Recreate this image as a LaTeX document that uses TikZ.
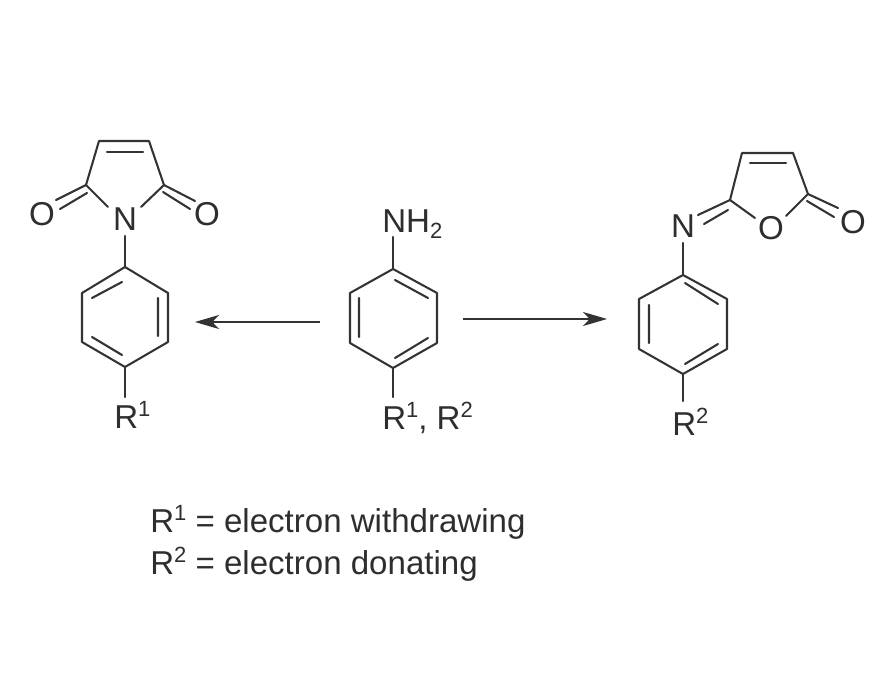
\documentclass[tikz,border=0pt]{standalone}
\usepackage{fontspec}
\setmainfont{Liberation Sans}
\usetikzlibrary{arrows.meta}
\newcommand{\supr}[1]{\raisebox{0.36em}{\fontsize{16.5}{17}\selectfont #1}}
\newcommand{\subr}[1]{\raisebox{-0.2em}{\fontsize{16.5}{17}\selectfont #1}}
\tikzset{
  bond/.style={line width=1.55pt,draw=black!80,line cap=round,line join=round},
  rxnarrow/.style={line width=1.35pt,draw=black!80,-{Stealth[length=18pt,width=10.5pt,inset=5pt]},shorten >=0pt},
  atom/.style={inner sep=0pt,text=black!82,font=\fontsize{24.8}{29}\selectfont},
  labeltext/.style={inner sep=0pt,anchor=base west,text=black!82,font=\fontsize{24.8}{29}\selectfont}
}
\begin{document}
\begin{tikzpicture}[x=0.75pt,y=-0.75pt]
\path[use as bounding box,fill=white] (0,0) rectangle (890,682);
% --- left product ---
\coordinate (la) at (125,267); \coordinate (lb) at (168,293); \coordinate (lc) at (168,342);
\coordinate (ld) at (125,367); \coordinate (le) at (82,342); \coordinate (lf) at (82,293);
\draw[bond] (la)--(lb)--(lc)--(ld)--(le)--(lf)--cycle;
\draw[bond] (92,298)--(122,282) (92,337)--(122,355) (158,298)--(158,336);
\node[atom] (lN) at (125,219) {N};
\node[atom] (lO1) at (42,214) {O};
\node[atom] (lO2) at (207,214) {O};
\node[labeltext] (lR) at (114,428) {R\supr{1}};
\coordinate (lNb) at (125,236); \coordinate (lRb) at (125,397);
\draw[bond] (lNb)--(la) (ld)--(lRb);
\coordinate (lp) at (86,185); \coordinate (lq) at (99,141); \coordinate (lr) at (149,141); \coordinate (ls) at (164,185);
\coordinate (lNl) at (108,207); \coordinate (lNr) at (141,207);
\draw[bond] (lNl)--(lp)--(lq)--(lr)--(ls)--(lNr);
\draw[bond] (107,152)--(143,152);
\draw[bond] (lp)--(56,200) (87,193)--(60,209);
\draw[bond] (ls)--(195,201) (163,192)--(190,209);
% --- aniline ---
\coordinate (ma) at (393,269); \coordinate (mb) at (437,293); \coordinate (mc) at (437,343);
\coordinate (md) at (393,368); \coordinate (me) at (350,343); \coordinate (mf) at (350,293);
\draw[bond] (ma)--(mb)--(mc)--(md)--(me)--(mf)--cycle;
\draw[bond] (395,280)--(428,298) (395,358)--(428,338) (359,298)--(359,337);
\node[labeltext] (mN) at (382,232) {NH\subr{2}};
\node[labeltext] (mR) at (382,429) {R\supr{1}, R\supr{2}};
\coordinate (mNb) at (393,237); \coordinate (mRb) at (393,397);
\draw[bond] (mNb)--(ma) (md)--(mRb);
% --- right product ---
\coordinate (ra) at (683,275); \coordinate (rb) at (727,299); \coordinate (rc) at (727,349);
\coordinate (rd) at (683,374); \coordinate (re) at (639,349); \coordinate (rf) at (639,299);
\draw[bond] (ra)--(rb)--(rc)--(rd)--(re)--(rf)--cycle;
\draw[bond] (685,283)--(718,304) (685,364)--(718,344) (649,305)--(649,343);
\node[atom] (rN) at (683,226) {N};
\node[atom] (rO1) at (771,228) {O};
\node[atom] (rO2) at (853,222) {O};
\node[labeltext] (rR) at (672,435) {R\supr{2}};
\coordinate (rNb) at (683,243); \coordinate (rRb) at (683,401);
\draw[bond] (rNb)--(ra) (rd)--(rRb);
\coordinate (rp) at (730,200); \coordinate (rq) at (742,153); \coordinate (rr) at (793,153); \coordinate (rs) at (808,194);
\coordinate (rOl) at (755,218); \coordinate (rOr) at (786,216);
\draw[bond] (rOl)--(rp)--(rq)--(rr)--(rs)--(rOr);
\draw[bond] (750,163)--(786,163);
\draw[bond] (rs)--(838,208) (807,201)--(834,217);
\draw[bond] (rp)--(698,215) (728,210)--(704,224);
% --- arrows ---
\coordinate (a1s) at (320,322); \coordinate (a1e) at (195,322);
\coordinate (a2s) at (463,319); \coordinate (a2e) at (607,319);
\draw[rxnarrow] (a1s)--(a1e);
\draw[rxnarrow] (a2s)--(a2e);
% --- legend ---
\node[labeltext] (k1) at (150,532) {R\supr{1} = electron withdrawing};
\node[labeltext] (k2) at (150,574) {R\supr{2} = electron donating};
\end{tikzpicture}
\end{document}
